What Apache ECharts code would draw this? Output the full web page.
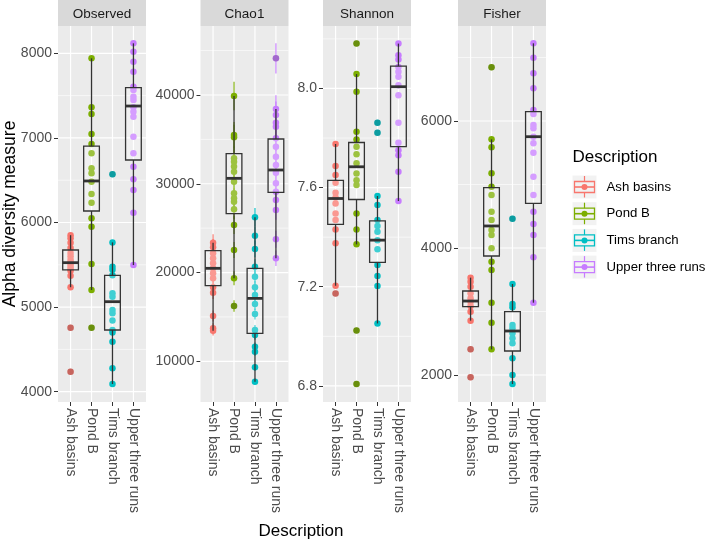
<!DOCTYPE html>
<html><head><meta charset="utf-8">
<script src="https://cdn.jsdelivr.net/npm/echarts@6/dist/echarts.min.js"></script>
<style>html,body{margin:0;padding:0;background:#fff}#c{width:709px;height:542px}</style>
</head><body><div id="c"></div>
<script>
// ---------- data ----------
const categories = ['Ash basins', 'Pond B', 'Tims branch', 'Upper three runs'];
const palette = ['#F8766D', '#7CAE00', '#00BFC4', '#C77CFF'];
const measures = ['Observed', 'Chao1', 'Shannon', 'Fisher'];

// Observed
const observedAsh = [5850, 5815, 5760, 5700, 5640, 5600, 5560, 5530, 5510, 5480, 5450, 5430, 5370, 5235, 4757, 4236];
const observedPond = [7941, 7362, 7283, 7046, 6928, 6818, 6640, 6581, 6483, 6337, 6234, 6049, 5951, 5509, 5202, 4757];
const observedTims = [6570, 5765, 5478, 5440, 5375, 5163, 5123, 4966, 4926, 4840, 4729, 4700, 4591, 4276, 4091];
const observedUpper = [8118, 8020, 7901, 7783, 7606, 7567, 7488, 7448, 7362, 7310, 7251, 7015, 6818, 6660, 6510, 6384, 6116, 5497];
// box stats: [lower whisker, Q1, median, Q3, upper whisker]
const observedBox = [[5235, 5440, 5525, 5675, 5850], [5202, 6136, 6491, 6904, 7941], [4091, 4729, 5064, 5375, 5765], [5497, 6739, 7377, 7594, 8118]];
const observedTicks = [4000, 5000, 6000, 7000, 8000];
const observedMinor = [4500, 5500, 6500, 7500];
const observedRange = [3878, 8323];

// Chao1
const chao1Ash = [23365, 22840, 22160, 21600, 21040, 20470, 19910, 19350, 18330, 17730, 15100, 13715, 13450];
const chao1Pond = [39890, 35500, 35230, 32870, 32490, 31930, 31360, 30240, 28920, 28360, 27980, 27120, 25350, 22540, 19350, 16230];
const chao1Tims = [26220, 24150, 22650, 20660, 19530, 18330, 17470, 16460, 15330, 13530, 12960, 11650, 11090, 9320, 7710];
const chao1Upper = [44130, 38420, 37750, 36880, 36430, 35120, 34180, 33050, 32110, 31250, 30050, 29110, 28170, 27040, 23740, 21600];
const chao1AshErr = [950, 930, 900, 870, 850, 830, 800, 780, 740, 720, 620, 560, 550];
const chao1PondErr = [1600, 1450, 1420, 1330, 1310, 1290, 1260, 1220, 1170, 1140, 1130, 1100, 1020, 910, 790, 660];
const chao1TimsErr = [1060, 980, 920, 840, 790, 740, 710, 670, 620, 550, 520, 470, 450, 380, 310];
const chao1UpperErr = [1700, 1550, 1520, 1490, 1470, 1420, 1380, 1340, 1300, 1260, 1210, 1180, 1140, 1090, 960, 870];
const chao1Box = [[13450, 18521, 20474, 22464, 23365], [19350, 26630, 30610, 33390, 39890], [7710, 13150, 17090, 20470, 26220], [21600, 29040, 31550, 35040, 38420]];
const chao1Ticks = [10000, 20000, 30000, 40000];
const chao1Minor = [15000, 25000, 35000, 45000];
const chao1Range = [5417, 47770];

// Shannon
const shannonAsh = [7.776, 7.687, 7.651, 7.620, 7.579, 7.560, 7.536, 7.496, 7.469, 7.431, 7.375, 7.204, 7.173];
const shannonPond = [8.181, 8.058, 7.987, 7.825, 7.794, 7.765, 7.735, 7.698, 7.657, 7.630, 7.610, 7.496, 7.431, 7.371, 7.023, 6.808];
const shannonTims = [7.862, 7.821, 7.566, 7.530, 7.469, 7.445, 7.422, 7.388, 7.351, 7.288, 7.243, 7.203, 7.052];
const shannonUpper = [8.181, 8.134, 8.117, 8.087, 8.067, 8.047, 8.013, 7.973, 7.862, 7.781, 7.751, 7.731, 7.664, 7.546];
const shannonBox = [[7.204, 7.452, 7.556, 7.629, 7.776], [7.371, 7.552, 7.684, 7.782, 8.058], [7.052, 7.298, 7.388, 7.466, 7.566], [7.546, 7.765, 8.007, 8.090, 8.181]];
const shannonTicks = [6.8, 7.2, 7.6, 8.0];
const shannonMinor = [7.0, 7.4, 7.8, 8.2];
const shannonRange = [6.735, 8.252];

// Fisher
const fisherAsh = [3533, 3470, 3391, 3286, 3207, 3155, 3087, 2997, 2856, 2404, 1963];
const fisherPond = [6845, 5711, 5585, 5176, 4966, 4835, 4572, 4441, 4284, 4205, 3995, 3785, 3654, 3139, 2824, 2404];
const fisherTims = [4462, 3433, 3118, 3066, 2788, 2735, 2656, 2578, 2499, 2263, 2000, 1858];
const fisherUpper = [7223, 6997, 6751, 6514, 6173, 6110, 5937, 5885, 5753, 5648, 5501, 5123, 4835, 4572, 4378, 4205, 3853, 3139];
const fisherBox = [[2856, 3076, 3165, 3323, 3533], [2404, 3874, 4347, 4950, 5711], [1858, 2378, 2693, 2998, 3433], [3139, 4703, 5753, 6147, 7223]];
const fisherTicks = [2000, 4000, 6000];
const fisherMinor = [3000, 5000, 7000];
const fisherRange = [1575, 7496];

// ---------- assembly ----------
const facets = [
  { points: [observedAsh, observedPond, observedTims, observedUpper], box: observedBox, ticks: observedTicks, minor: observedMinor, range: observedRange, fmt: v => String(v) },
  { points: [chao1Ash, chao1Pond, chao1Tims, chao1Upper], err: [chao1AshErr, chao1PondErr, chao1TimsErr, chao1UpperErr], box: chao1Box, ticks: chao1Ticks, minor: chao1Minor, range: chao1Range, fmt: v => String(v) },
  { points: [shannonAsh, shannonPond, shannonTims, shannonUpper], box: shannonBox, ticks: shannonTicks, minor: shannonMinor, range: shannonRange, fmt: v => Number(v).toFixed(1) },
  { points: [fisherAsh, fisherPond, fisherTims, fisherUpper], box: fisherBox, ticks: fisherTicks, minor: fisherMinor, range: fisherRange, fmt: v => String(v) }
];

const FONT = '"Liberation Sans", Arial, sans-serif';
const panelLeft = [58, 200.5, 323, 458];
const panelTop = 26, panelW = 88, panelH = 376;
const catPos = [1, 2, 3, 4];

const grid = [], xAxis = [], yAxis = [], series = [], graphic = [];

facets.forEach((f, i) => {
  grid.push({ left: panelLeft[i], top: panelTop, width: panelW, height: panelH, show: true,
    backgroundColor: '#EBEBEB', borderWidth: 0, containLabel: false, outerBoundsMode: 'none' });
  xAxis.push({ type: 'value', gridIndex: i, min: 0.4, max: 4.6,
    axisLine: { show: false },
    axisTick: { show: true, customValues: catPos, length: 4, lineStyle: { color: '#333333', width: 1 } },
    axisLabel: { show: true, customValues: catPos, formatter: v => categories[Math.round(v) - 1], rotate: -90,
      margin: 6, fontSize: 14, color: '#4D4D4D', fontFamily: FONT },
    splitLine: { show: false } });
  yAxis.push({ type: 'value', gridIndex: i, min: f.range[0], max: f.range[1],
    axisLine: { show: false },
    axisTick: { show: true, customValues: f.ticks, length: 4, lineStyle: { color: '#333333', width: 1 } },
    axisLabel: { show: true, customValues: f.ticks, formatter: f.fmt, margin: 6, fontSize: 14, color: '#4D4D4D', fontFamily: FONT },
    splitLine: { show: false } });

  // grid lines
  series.push({ type: 'custom', xAxisIndex: i, yAxisIndex: i, silent: true, z: 1,
    data: [[2.5, (f.range[0] + f.range[1]) / 2]],
    renderItem: (p, api) => {
      const ch = [];
      f.minor.forEach(v => { const a = api.coord([0.4, v]), b = api.coord([4.6, v]);
        ch.push({ type: 'line', shape: { x1: a[0], y1: a[1], x2: b[0], y2: b[1] }, style: { stroke: '#FFFFFF', lineWidth: 0.6 } }); });
      f.ticks.forEach(v => { const a = api.coord([0.4, v]), b = api.coord([4.6, v]);
        ch.push({ type: 'line', shape: { x1: a[0], y1: a[1], x2: b[0], y2: b[1] }, style: { stroke: '#FFFFFF', lineWidth: 1.2 } }); });
      catPos.forEach(c => { const a = api.coord([c, f.range[0]]), b = api.coord([c, f.range[1]]);
        ch.push({ type: 'line', shape: { x1: a[0], y1: a[1], x2: b[0], y2: b[1] }, style: { stroke: '#FFFFFF', lineWidth: 1.2 } }); });
      return { type: 'group', children: ch };
    } });

  // error bars (Chao1)
  if (f.err) {
    const ed = [];
    f.points.forEach((arr, k) => arr.forEach((v, j) => ed.push([k + 1, v - f.err[k][j], v + f.err[k][j], k])));
    series.push({ type: 'custom', xAxisIndex: i, yAxisIndex: i, silent: true, z: 2, data: ed,
      renderItem: (p, api) => {
        const a = api.coord([api.value(0), api.value(1)]), b = api.coord([api.value(0), api.value(2)]);
        return { type: 'line', shape: { x1: a[0], y1: a[1], x2: b[0], y2: b[1] },
          style: { stroke: palette[api.value(3)], lineWidth: 1.1 } };
      } });
  }

  // points
  f.points.forEach((arr, k) => {
    series.push({ type: 'scatter', xAxisIndex: i, yAxisIndex: i, silent: true, z: 3,
      symbol: 'circle', symbolSize: 6.5, itemStyle: { color: palette[k], opacity: 1 },
      data: arr.map(v => [k + 1, v]) });
  });

  // boxes
  series.push({ type: 'custom', xAxisIndex: i, yAxisIndex: i, silent: true, z: 4,
    data: f.box.map((b, k) => [k + 1, b[0], b[1], b[2], b[3], b[4]]),
    renderItem: (p, api) => {
      const x = api.value(0);
      const lo = api.coord([x, api.value(1)]), q1 = api.coord([x, api.value(2)]), md = api.coord([x, api.value(3)]),
        q3 = api.coord([x, api.value(4)]), hi = api.coord([x, api.value(5)]);
      const hw = api.size([0.75, 0])[0] / 2;
      const st = { stroke: '#333333', lineWidth: 1.3 };
      return { type: 'group', children: [
        { type: 'line', shape: { x1: lo[0], y1: lo[1], x2: q1[0], y2: q1[1] }, style: st },
        { type: 'line', shape: { x1: q3[0], y1: q3[1], x2: hi[0], y2: hi[1] }, style: st },
        { type: 'rect', shape: { x: q3[0] - hw, y: q3[1], width: 2 * hw, height: q1[1] - q3[1] },
          style: { fill: 'rgba(255,255,255,0.25)', stroke: '#333333', lineWidth: 1.3 } },
        { type: 'line', shape: { x1: md[0] - hw, y1: md[1], x2: md[0] + hw, y2: md[1] }, style: { stroke: '#333333', lineWidth: 2.8 } }
      ] };
    } });

  // outliers (points beyond whiskers)
  const od = [];
  f.points.forEach((arr, k) => arr.forEach(v => { if (v < f.box[k][0] || v > f.box[k][4]) od.push([k + 1, v]); }));
  series.push({ type: 'scatter', xAxisIndex: i, yAxisIndex: i, silent: true, z: 5,
    symbol: 'circle', symbolSize: 6.5, itemStyle: { color: 'rgba(51,51,51,0.3)' }, data: od });

  // strip
  graphic.push({ type: 'rect', shape: { x: panelLeft[i], y: 0, width: panelW, height: 26 }, style: { fill: '#D9D9D9' }, silent: true });
  graphic.push({ type: 'text', x: panelLeft[i] + panelW / 2, y: 14, silent: true,
    style: { text: measures[i], fill: '#1A1A1A', fontSize: 13.5, fontFamily: FONT, align: 'center', verticalAlign: 'middle' } });
});

// axis titles
graphic.push({ type: 'text', x: 10, y: 214, rotation: Math.PI / 2, silent: true,
  style: { text: 'Alpha diversity measure', fill: '#000', fontSize: 17.5, fontFamily: FONT, align: 'center', verticalAlign: 'middle' } });
graphic.push({ type: 'text', x: 301, y: 531, silent: true,
  style: { text: 'Description', fill: '#000', fontSize: 17, fontFamily: FONT, align: 'center', verticalAlign: 'middle' } });

// legend
graphic.push({ type: 'text', x: 572.5, y: 157, silent: true,
  style: { text: 'Description', fill: '#000', fontSize: 17, fontFamily: FONT, align: 'left', verticalAlign: 'middle' } });
categories.forEach((c, k) => {
  const cy = 187 + 26.7 * k, cx = 584.5;
  graphic.push({ type: 'rect', shape: { x: 572.5, y: cy - 11.5, width: 24, height: 23 }, style: { fill: '#F2F2F2' }, silent: true });
  graphic.push({ type: 'line', shape: { x1: cx, y1: cy - 11, x2: cx, y2: cy + 10.5 }, style: { stroke: palette[k], lineWidth: 1.2 }, silent: true });
  graphic.push({ type: 'rect', shape: { x: 574.5, y: cy - 5.5, width: 20, height: 11 }, style: { fill: '#F2F2F2', stroke: palette[k], lineWidth: 1.3 }, silent: true });
  graphic.push({ type: 'line', shape: { x1: 574.5, y1: cy, x2: 594.5, y2: cy }, style: { stroke: palette[k], lineWidth: 1.6 }, silent: true });
  graphic.push({ type: 'circle', shape: { cx: cx, cy: cy, r: 3 }, style: { fill: palette[k] }, silent: true });
  graphic.push({ type: 'text', x: 606.5, y: cy, silent: true,
    style: { text: c, fill: '#000', fontSize: 13.2, fontFamily: FONT, align: 'left', verticalAlign: 'middle' } });
});

const chart = echarts.init(document.getElementById('c'), null, { renderer: 'canvas' });
chart.setOption({ animation: false, backgroundColor: '#FFFFFF', grid, xAxis, yAxis, series, graphic });
</script></body></html>
